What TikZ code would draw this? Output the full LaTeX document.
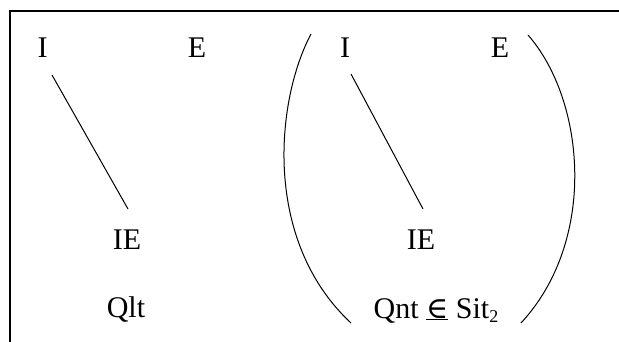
\documentclass[tikz,border=0pt]{standalone}
\usepackage{fontspec}
\setmainfont{Liberation Serif}
\newfontfamily\elemfont{DejaVu Serif}
\usetikzlibrary{calc}
\tikzset{
  term/.style={inner sep=0pt, anchor=base, font=\fontsize{30}{36}\selectfont},
  link/.style={line width=1pt},
  arcline/.style={line width=1pt},
  frameline/.style={line width=2.2pt},
}

\begin{document}
\begin{tikzpicture}[x=1pt, y=-1pt]
        \useasboundingbox (0,0) rectangle (619,342);
        % frame
        \draw[frameline] (10,342) -- (10,11) -- (619,11);
        % left group
        \node[term] (iL) at (42.5,58) {I};
        \node[term] (eL) at (197,58) {E};
        \node[term] (ieL) at (127,249) {IE};
        \node[term] (qlt) at (126,317) {Qlt};
        \draw[link] ($(iL.base)+(9.5,17)$) -- ($(ieL.base)+(1,-40)$);
        % right group
        \node[term] (iR) at (345,58) {I};
        \node[term] (eR) at (500,58) {E};
        \node[term] (ieR) at (421,249) {IE};
        \node[term] (qnt) at (436,318) {Qnt \underline{{\elemfont ∈}} Sit\raisebox{-4pt}{\fontsize{18}{20}\selectfont 2}};
        \draw[link] ($(iR.base)+(6,16)$) -- ($(ieR.base)+(2,-40)$);
        % brackets
        \draw[arcline] (311,34) .. controls (276,100) and (262,240) .. (351,323);
        \draw[arcline] (528,35) .. controls (585,100) and (598,240) .. (521,323);
      \end{tikzpicture}
\end{document}
